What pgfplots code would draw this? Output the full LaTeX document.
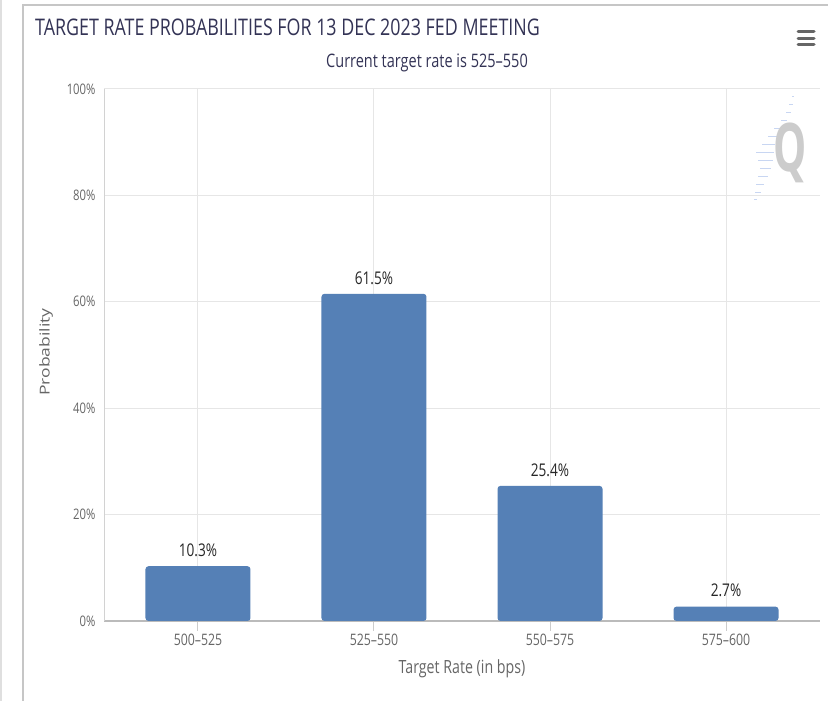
\documentclass[border=0pt]{standalone}
\usepackage{fontspec}
\setmainfont{Open Sans}[FakeStretch=0.78]
\newfontfamily\plainfont{Open Sans}
\usepackage{pgfplots}
\pgfplotsset{compat=1.18}
\definecolor{barblue}{HTML}{5580B6}
\definecolor{titlecol}{HTML}{333355}
\definecolor{labgray}{HTML}{666666}
\definecolor{gridgray}{HTML}{E6E6E6}
\definecolor{axgray}{HTML}{BBBBBB}
\definecolor{dashblue}{HTML}{C8D6F2}
\begin{document}
\begin{tikzpicture}[x=1pt,y=1pt]
\path[use as bounding box] (0,0) rectangle (828,701);
\fill[white] (0,0) rectangle (828,701);
% frame
\draw[gray!25, line width=2.5pt] (1,0) -- (1,701);
\draw[gray!45, line width=1.5pt] (23,0) -- (23,696) -- (828,696);
% title and subtitle
\node[anchor=base west, inner sep=0pt, text=titlecol, font=\fontsize{22.9}{26}\selectfont] at (35,665) {TARGET RATE PROBABILITIES FOR 13 DEC 2023 FED MEETING};
\node[anchor=base, inner sep=0pt, text=titlecol, font=\fontsize{18.6}{21}\selectfont] at (427,633.5) {Current target rate is 525--550};
% menu icon
\foreach \yy in {669,662.5,656} \draw[labgray, line width=3pt, line cap=round] (798,\yy) -- (814,\yy);
% Q logo
\foreach \yy/\xl/\xr in {97/792/794,105/789/793,113/786/791,121/781/787,129/774/781,137/768/777,145/762/775,153/756/774,161/758/773,169/760/771,177/758/768,185/756/764,193/755/761,200/754/757}{
  \draw[dashblue, line width=1pt] (\xl,701-\yy) -- (\xr,701-\yy);
}
\node[anchor=base, inner sep=0pt, text=gray!40, font=\bfseries\fontsize{67}{67}\selectfont] at (790,529) {\scalebox{0.8}[1]{Q}};
% y label
\node[rotate=90, text=labgray, font=\plainfont\fontsize{17.5}{20}\selectfont] at (46,349) {\scalebox{1}[0.78]{Probability}};
\begin{axis}[
  at={(104pt,80pt)}, anchor=south west,
  scale only axis, width=716pt, height=532pt,
  xmin=-0.534, xmax=3.534, ymin=0, ymax=100,
  /pgf/number format/assume math mode=true,
  ybar, bar width=105pt,
  axis x line*=bottom, axis y line*=left,
  axis line style={-},
  x axis line style={axgray, line width=2pt},
  y axis line style={gray!35, line width=1pt},
  xtick={0,1,2,3},
  xticklabels={500--525,525--550,550--575,575--600},
  ytick={0,20,40,60,80,100},
  yticklabel={\pgfmathprintnumber{\tick}\%},
  ytick style={draw=none},
  xtick style={draw=gray!40, line width=1pt},
  tick align=outside,
  major tick length=10pt,
  xmajorgrids, ymajorgrids,
  grid style={gridgray, line width=1pt},
  xticklabel style={text=labgray, font=\fontsize{15.8}{18}\selectfont},
  yticklabel style={text=labgray, font=\fontsize{14.5}{16}\selectfont, xshift=5pt},
  xlabel={Target Rate (in bps)},
  every axis x label/.style={at={(axis description cs:0.5,0)}, anchor=center, yshift=-48pt, text=labgray, font=\fontsize{18.2}{20}\selectfont},
  nodes near coords={\pgfmathprintnumber[fixed,fixed zerofill,precision=1]{\pgfplotspointmeta}\%},
  every node near coord/.append style={text=black!85, font=\fontsize{17.5}{20}\selectfont, anchor=south, yshift=6pt},
  point meta=y,
  clip=false,
]
\addplot[fill=barblue, draw=none, rounded corners=3pt] coordinates {(0,10.3) (1,61.5) (2,25.4) (3,2.7)};
\end{axis}
\end{tikzpicture}
\end{document}
